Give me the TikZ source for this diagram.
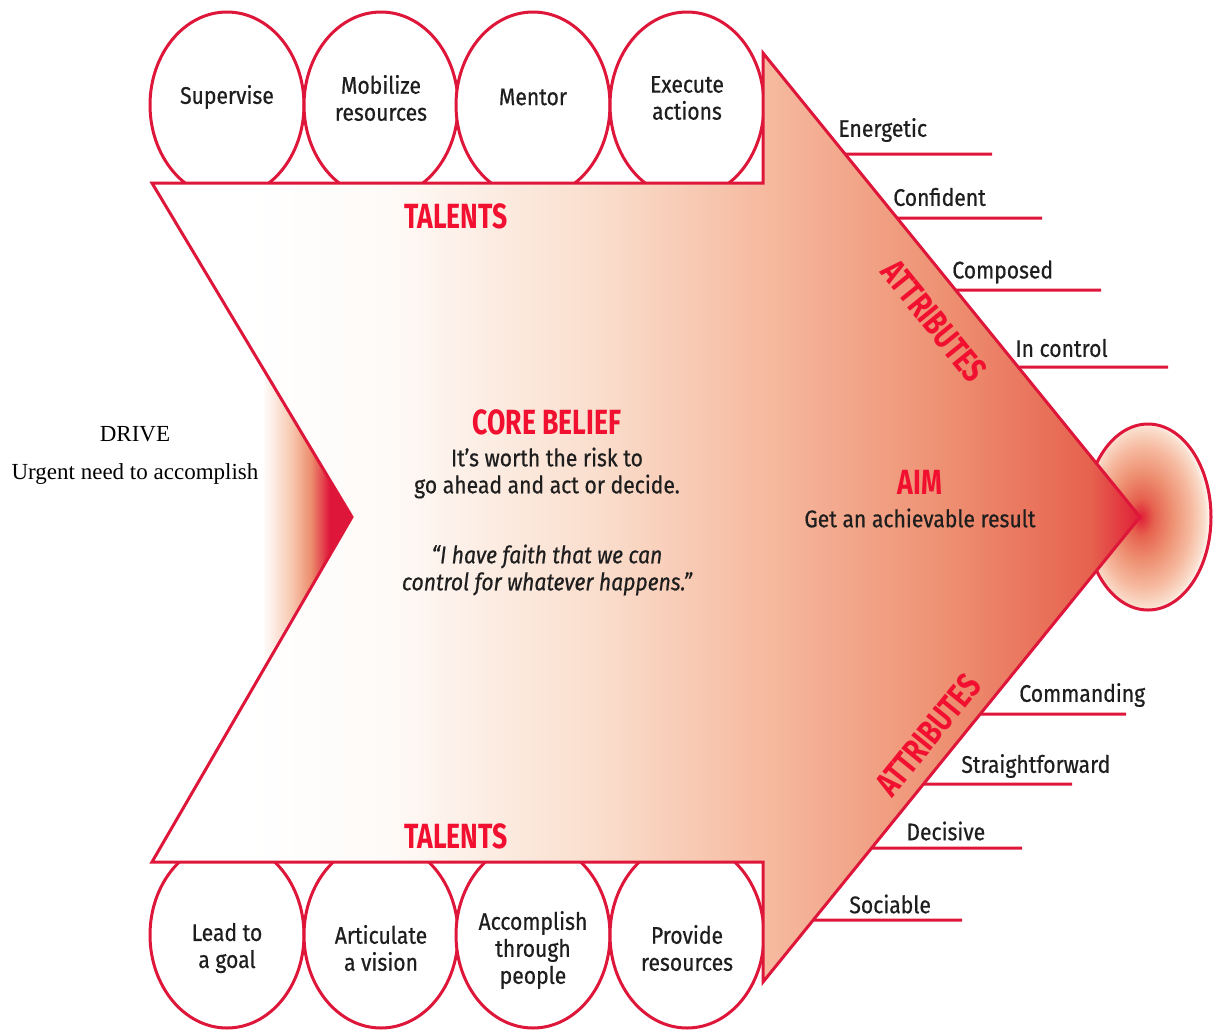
\documentclass[tikz,border=0pt]{standalone}
\usepackage{fontspec}
\setmainfont{Liberation Serif}
\newfontfamily\labelfont{Fira Sans}[FakeStretch=0.88, FakeBold=0.6]
\newfontfamily\headfont{Fira Sans}[FakeStretch=0.76]
\usetikzlibrary{shapes.geometric}

\definecolor{ringred}{RGB}{222,22,58}
\definecolor{headred}{RGB}{242,16,48}
\definecolor{peach}{RGB}{248,202,178}
\definecolor{salmon}{RGB}{236,140,108}
\definecolor{ink}{RGB}{30,30,30}
\definecolor{fadeA}{RGB}{254,250,247}
\definecolor{fadeB}{RGB}{250,222,205}
\definecolor{fadeC}{RGB}{246,186,160}
\definecolor{fadeD}{RGB}{238,145,115}
\definecolor{fadeE}{RGB}{230,98,78}
\definecolor{fadeF}{RGB}{224,30,55}

\pgfdeclarehorizontalshading{arrowfade}{100bp}{color(0bp)=(white); color(30bp)=(white);
  color(37bp)=(fadeA); color(47.5bp)=(fadeB); color(56bp)=(fadeC); color(65bp)=(fadeD);
  color(72.5bp)=(fadeE); color(75bp)=(fadeF); color(100bp)=(fadeF)}
\pgfdeclarehorizontalshading{notchfade}{100bp}{color(0bp)=(white); color(31bp)=(white);
  color(45bp)=(peach); color(55bp)=(salmon); color(64bp)=(ringred); color(100bp)=(ringred)}
\pgfdeclareradialshading{targetfade}{\pgfpoint{-3bp}{0bp}}{color(0bp)=(fadeF);
  color(5bp)=(fadeE); color(12bp)=(fadeD); color(19bp)=(fadeC); color(24bp)=(fadeB);
  color(26bp)=(fadeA); color(50bp)=(white)}

\tikzset{
  talent/.style={ellipse, draw=ringred, fill=white, line width=1.5pt,
    minimum width=77pt, minimum height=93pt, inner sep=0pt},
  talentlabel/.style={font=\labelfont\fontsize{12}{13.5}\selectfont, text=ink, align=center},
  attrlabel/.style={font=\labelfont\fontsize{12}{13.5}\selectfont, text=ink, anchor=west, inner xsep=0pt},
  attrline/.style={draw=ringred, line width=1.5pt},
  heading/.style={font=\headfont\bfseries\fontsize{17.5}{20}\selectfont, text=headred},
  bodytext/.style={font=\labelfont\fontsize{12}{13.5}\selectfont, text=ink, align=center},
}

\begin{document}
\begin{tikzpicture}[x=0.5pt,y=-0.5pt]
  \useasboundingbox (0,0) rectangle (1217,1035);
  % talent circles
  \node[talent] (supervise) at (227,105) {};
  \node[talent] (mobilize) at (381,105) {};
  \node[talent] (mentor) at (533,105) {};
  \node[talent] (execute) at (687,105) {};
  \node[talent] (leadgoal) at (227,935) {};
  \node[talent] (vision) at (381,935) {};
  \node[talent] (accomplish) at (533,935) {};
  \node[talent] (provide) at (687,935) {};
  % target
  \shadedraw[shading=targetfade, draw=ringred, line width=1.5pt]
    (1148,517) ellipse [x radius=63, y radius=93];
  % drive notch
  \shade[shading=notchfade] (250,347) -- (352,517) -- (250,687) -- cycle;
  % the arrow
  \coordinate (barbtop) at (763,53);
  \coordinate (tip) at (1140,517);
  \coordinate (barbbot) at (763,982);
  \shadedraw[shading=arrowfade, draw=ringred, line width=1.5pt]
    (152,183) -- (763,183) -- (barbtop) -- (tip) -- (barbbot)
    -- (763,862) -- (152,862) -- (352,517) -- cycle;
  % circle texts
  \node[talentlabel] (tsupervise) at (227,97) {Supervise};
  \node[talentlabel] (tmobilize) at (381,98) {Mobilize\\resources};
  \node[talentlabel] (tmentor) at (533,97) {Mentor};
  \node[talentlabel] (texecute) at (687,98) {Execute\\actions};
  \node[talentlabel] (tleadgoal) at (227,948) {Lead to\\a goal};
  \node[talentlabel] (tvision) at (381,948) {Articulate\\a vision};
  \node[talentlabel] (taccomplish) at (533,950) {Accomplish\\through\\people};
  \node[talentlabel] (tprovide) at (687,948) {Provide\\resources};
  % headings
  \node[heading] (talentstop) at (456,216) {TALENTS};
  \node[heading] (talentsbot) at (456,836) {TALENTS};
  \node[heading, rotate=-51] (attrtop) at (934,321) {ATTRIBUTES};
  \node[heading, rotate=51] (attrbot) at (928,735) {ATTRIBUTES};
  \node[heading] (corebelief) at (547,422) {CORE BELIEF};
  \node[bodytext] (belief) at (547,473) {It’s worth the risk to\\go ahead and act or decide.};
  \node[bodytext, font=\labelfont\itshape\fontsize{12}{13.5}\selectfont] (quote) at (547,570)
    {“I have faith that we can\\control for whatever happens.”};
  \node[heading] (aim) at (920,482) {AIM};
  \node[bodytext] (aimtext) at (920,518) {Get an achievable result};
  \node[font=\fontsize{11.5}{19}\selectfont, align=center] (drive) at (135,455)
    {DRIVE\\Urgent need to accomplish};
  % attributes above
  \node[attrlabel] (energetic) at (838,130) {Energetic};
  \node[attrlabel] (confident) at (893,197) {Confident};
  \node[attrlabel] (composed) at (952,272) {Composed};
  \node[attrlabel] (incontrol) at (1015,348) {In control};
  \draw[attrline] (intersection of barbtop--tip and 0,154--1,154) -- (992,154);
  \draw[attrline] (intersection of barbtop--tip and 0,218--1,218) -- (1042,218);
  \draw[attrline] (intersection of barbtop--tip and 0,290--1,290) -- (1101,290);
  \draw[attrline] (intersection of barbtop--tip and 0,367--1,367) -- (1168,367);
  % attributes below
  \node[attrlabel] (commanding) at (1019,695) {Commanding};
  \node[attrlabel] (straight) at (961,766) {Straightforward};
  \node[attrlabel] (decisive) at (906,831) {Decisive};
  \node[attrlabel] (sociable) at (849,904) {Sociable};
  \draw[attrline] (intersection of barbbot--tip and 0,714--1,714) -- (1126,714);
  \draw[attrline] (intersection of barbbot--tip and 0,784--1,784) -- (1072,784);
  \draw[attrline] (intersection of barbbot--tip and 0,848--1,848) -- (1022,848);
  \draw[attrline] (intersection of barbbot--tip and 0,920--1,920) -- (962,920);
\end{tikzpicture}
\end{document}
